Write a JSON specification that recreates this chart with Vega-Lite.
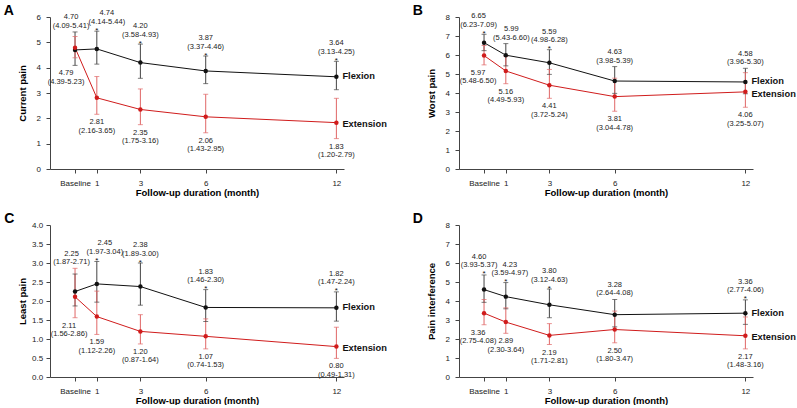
{
"$schema": "https://vega.github.io/schema/vega-lite/v6.json",
"data": {"values": [
{"panel":"A","group":"Flexion","month":0,"mean":4.70,"lower":4.09,"upper":5.41,"sig":false},
{"panel":"A","group":"Flexion","month":1,"mean":4.74,"lower":4.14,"upper":5.44,"sig":true},
{"panel":"A","group":"Flexion","month":3,"mean":4.20,"lower":3.58,"upper":4.93,"sig":true},
{"panel":"A","group":"Flexion","month":6,"mean":3.87,"lower":3.37,"upper":4.46,"sig":true},
{"panel":"A","group":"Flexion","month":12,"mean":3.64,"lower":3.13,"upper":4.25,"sig":true},
{"panel":"A","group":"Extension","month":0,"mean":4.79,"lower":4.39,"upper":5.23,"sig":false},
{"panel":"A","group":"Extension","month":1,"mean":2.81,"lower":2.16,"upper":3.65,"sig":false},
{"panel":"A","group":"Extension","month":3,"mean":2.35,"lower":1.75,"upper":3.16,"sig":false},
{"panel":"A","group":"Extension","month":6,"mean":2.06,"lower":1.43,"upper":2.95,"sig":false},
{"panel":"A","group":"Extension","month":12,"mean":1.83,"lower":1.20,"upper":2.79,"sig":false},
{"panel":"B","group":"Flexion","month":0,"mean":6.65,"lower":6.23,"upper":7.09,"sig":true},
{"panel":"B","group":"Flexion","month":1,"mean":5.99,"lower":5.43,"upper":6.60,"sig":false},
{"panel":"B","group":"Flexion","month":3,"mean":5.59,"lower":4.98,"upper":6.28,"sig":true},
{"panel":"B","group":"Flexion","month":6,"mean":4.63,"lower":3.98,"upper":5.39,"sig":false},
{"panel":"B","group":"Flexion","month":12,"mean":4.58,"lower":3.96,"upper":5.30,"sig":false},
{"panel":"B","group":"Extension","month":0,"mean":5.97,"lower":5.48,"upper":6.50,"sig":false},
{"panel":"B","group":"Extension","month":1,"mean":5.16,"lower":4.49,"upper":5.93,"sig":false},
{"panel":"B","group":"Extension","month":3,"mean":4.41,"lower":3.72,"upper":5.24,"sig":false},
{"panel":"B","group":"Extension","month":6,"mean":3.81,"lower":3.04,"upper":4.78,"sig":false},
{"panel":"B","group":"Extension","month":12,"mean":4.06,"lower":3.25,"upper":5.07,"sig":false},
{"panel":"C","group":"Flexion","month":0,"mean":2.25,"lower":1.87,"upper":2.71,"sig":false},
{"panel":"C","group":"Flexion","month":1,"mean":2.45,"lower":1.97,"upper":3.04,"sig":true},
{"panel":"C","group":"Flexion","month":3,"mean":2.38,"lower":1.89,"upper":3.00,"sig":true},
{"panel":"C","group":"Flexion","month":6,"mean":1.83,"lower":1.46,"upper":2.30,"sig":true},
{"panel":"C","group":"Flexion","month":12,"mean":1.82,"lower":1.47,"upper":2.24,"sig":true},
{"panel":"C","group":"Extension","month":0,"mean":2.11,"lower":1.56,"upper":2.86,"sig":false},
{"panel":"C","group":"Extension","month":1,"mean":1.59,"lower":1.12,"upper":2.26,"sig":false},
{"panel":"C","group":"Extension","month":3,"mean":1.20,"lower":0.87,"upper":1.64,"sig":false},
{"panel":"C","group":"Extension","month":6,"mean":1.07,"lower":0.74,"upper":1.53,"sig":false},
{"panel":"C","group":"Extension","month":12,"mean":0.80,"lower":0.49,"upper":1.31,"sig":false},
{"panel":"D","group":"Flexion","month":0,"mean":4.60,"lower":3.93,"upper":5.37,"sig":true},
{"panel":"D","group":"Flexion","month":1,"mean":4.23,"lower":3.59,"upper":4.97,"sig":true},
{"panel":"D","group":"Flexion","month":3,"mean":3.80,"lower":3.12,"upper":4.63,"sig":true},
{"panel":"D","group":"Flexion","month":6,"mean":3.28,"lower":2.64,"upper":4.08,"sig":false},
{"panel":"D","group":"Flexion","month":12,"mean":3.36,"lower":2.77,"upper":4.06,"sig":true},
{"panel":"D","group":"Extension","month":0,"mean":3.36,"lower":2.75,"upper":4.08,"sig":false},
{"panel":"D","group":"Extension","month":1,"mean":2.89,"lower":2.30,"upper":3.64,"sig":false},
{"panel":"D","group":"Extension","month":3,"mean":2.19,"lower":1.71,"upper":2.81,"sig":false},
{"panel":"D","group":"Extension","month":6,"mean":2.50,"lower":1.80,"upper":3.47,"sig":false},
{"panel":"D","group":"Extension","month":12,"mean":2.17,"lower":1.48,"upper":3.16,"sig":false}
]},
"columns": 2,
"bounds": "flush",
"spacing": {"row": 56, "column": 115},
"padding": {"left": 3, "top": 4, "right": 0, "bottom": 0},
"concat": [
{
 "title": {"text": "A", "orient": "left", "anchor": "end", "frame": "group", "angle": 0, "align": "right", "baseline": "alphabetic", "offset": -7, "dy": -2},
 "width": 294, "height": 152,
 "transform": [
  {"filter": "datum.panel == 'A'"},
  {"joinaggregate": [{"op": "max", "field": "upper", "as": "maxU"}, {"op": "min", "field": "lower", "as": "minL"}], "groupby": ["month"]},
  {"calculate": "format(datum.mean,'.2f') + '\\n(' + format(datum.lower,'.2f') + '-' + format(datum.upper,'.2f') + ')'", "as": "label"}
 ],
 "encoding": {
  "x": {"field": "month", "type": "quantitative", "scale": {"domain": [-1.15, 12.35], "nice": false, "zero": false}, "axis": {"values": [0,1,3,6,12], "labelExpr": "datum.value == 0 ? 'Baseline' : datum.label"}, "title": "Follow-up duration (month)"},
  "xOffset": {"field": "group", "type": "nominal", "scale": {"type": "point", "domain": ["Flexion", "Extension"], "range": [-1, 3.5], "padding": 0}}
 },
 "layer": [
  {"mark": {"type": "rule", "strokeWidth": 1}, "encoding": {"y": {"field": "lower", "type": "quantitative", "scale": {"domain": [0, 6], "nice": false}, "axis": {"values": [0,1,2,3,4,5,6], "labelPadding": 5.5, "titlePadding": 9}, "title": "Current pain"}, "y2": {"field": "upper"}, "color": {"condition": {"test": "datum.group == 'Flexion'", "value": "#444"}, "value": "#e06666"}}},
  {"mark": {"type": "tick", "orient": "horizontal", "size": 5, "thickness": 1}, "encoding": {"y": {"field": "lower", "type": "quantitative", "scale": {"domain": [0, 6], "nice": false}, "axis": {"values": [0,1,2,3,4,5,6], "labelPadding": 5.5, "titlePadding": 9}, "title": "Current pain"}, "color": {"condition": {"test": "datum.group == 'Flexion'", "value": "#444"}, "value": "#e06666"}}},
  {"mark": {"type": "tick", "orient": "horizontal", "size": 5, "thickness": 1}, "encoding": {"y": {"field": "upper", "type": "quantitative", "scale": {"domain": [0, 6], "nice": false}, "axis": {"values": [0,1,2,3,4,5,6], "labelPadding": 5.5, "titlePadding": 9}, "title": "Current pain"}, "color": {"condition": {"test": "datum.group == 'Flexion'", "value": "#444"}, "value": "#e06666"}}},
  {"mark": {"type": "line", "strokeWidth": 1}, "encoding": {"y": {"field": "mean", "type": "quantitative", "scale": {"domain": [0, 6], "nice": false}, "axis": {"values": [0,1,2,3,4,5,6], "labelPadding": 5.5, "titlePadding": 9}, "title": "Current pain"}, "color": {"field": "group", "type": "nominal", "scale": {"domain": ["Flexion", "Extension"], "range": ["#111111", "#d01c1c"]}, "legend": null}}},
  {"mark": {"type": "point", "filled": true, "size": 20, "opacity": 1}, "encoding": {"y": {"field": "mean", "type": "quantitative", "scale": {"domain": [0, 6], "nice": false}, "axis": {"values": [0,1,2,3,4,5,6], "labelPadding": 5.5, "titlePadding": 9}, "title": "Current pain"}, "color": {"field": "group", "type": "nominal", "scale": {"domain": ["Flexion", "Extension"], "range": ["#111111", "#d01c1c"]}, "legend": null}}},
  {"transform": [{"filter": "datum.group == 'Flexion' && datum.sig"}], "mark": {"type": "text", "text": "*", "fontSize": 8, "baseline": "alphabetic", "dy": 1.5, "color": "#111"}, "encoding": {"y": {"field": "upper", "type": "quantitative", "scale": {"domain": [0, 6], "nice": false}, "axis": {"values": [0,1,2,3,4,5,6], "labelPadding": 5.5, "titlePadding": 9}, "title": "Current pain"}}},
  {"transform": [{"filter": "datum.group == 'Flexion'"}], "mark": {"type": "text", "fontSize": 7.5, "baseline": "bottom", "lineBreak": "\n", "lineHeight": 8.5, "color": "#222", "dy": {"expr": "datum.sig ? -14 : -10.5"}, "dx": {"expr": "datum.month == 0 ? -4 : datum.month == 1 ? 10 : 0"}}, "encoding": {"y": {"field": "maxU", "type": "quantitative", "scale": {"domain": [0, 6], "nice": false}, "axis": {"values": [0,1,2,3,4,5,6], "labelPadding": 5.5, "titlePadding": 9}, "title": "Current pain"}, "text": {"field": "label"}}},
  {"transform": [{"filter": "datum.group == 'Extension'"}], "mark": {"type": "text", "fontSize": 7.5, "baseline": "top", "lineBreak": "\n", "lineHeight": 8.5, "color": "#222", "dy": 4, "dx": {"expr": "datum.month == 0 ? -9 : 0"}}, "encoding": {"y": {"field": "minL", "type": "quantitative", "scale": {"domain": [0, 6], "nice": false}, "axis": {"values": [0,1,2,3,4,5,6], "labelPadding": 5.5, "titlePadding": 9}, "title": "Current pain"}, "text": {"field": "label"}}},
  {"transform": [{"filter": "datum.month == 12"}], "mark": {"type": "text", "align": "left", "dx": 6, "dy": {"expr": "datum.group == 'Extension' ? 1.5 : -0.5"}, "fontSize": 9.3, "fontWeight": "bold", "color": "#111"}, "encoding": {"y": {"field": "mean", "type": "quantitative", "scale": {"domain": [0, 6], "nice": false}, "axis": {"values": [0,1,2,3,4,5,6], "labelPadding": 5.5, "titlePadding": 9}, "title": "Current pain"}, "text": {"field": "group"}}}
 ]
},
{
 "title": {"text": "B", "orient": "left", "anchor": "end", "frame": "group", "angle": 0, "align": "right", "baseline": "alphabetic", "offset": -7, "dy": -2},
 "width": 294, "height": 152,
 "transform": [
  {"filter": "datum.panel == 'B'"},
  {"joinaggregate": [{"op": "max", "field": "upper", "as": "maxU"}, {"op": "min", "field": "lower", "as": "minL"}], "groupby": ["month"]},
  {"calculate": "format(datum.mean,'.2f') + '\\n(' + format(datum.lower,'.2f') + '-' + format(datum.upper,'.2f') + ')'", "as": "label"}
 ],
 "encoding": {
  "x": {"field": "month", "type": "quantitative", "scale": {"domain": [-1.15, 12.35], "nice": false, "zero": false}, "axis": {"values": [0,1,3,6,12], "labelExpr": "datum.value == 0 ? 'Baseline' : datum.label"}, "title": "Follow-up duration (month)"},
  "xOffset": {"field": "group", "type": "nominal", "scale": {"type": "point", "domain": ["Flexion", "Extension"], "range": [-1, 3.5], "padding": 0}}
 },
 "layer": [
  {"mark": {"type": "rule", "strokeWidth": 1}, "encoding": {"y": {"field": "lower", "type": "quantitative", "scale": {"domain": [0, 8], "nice": false}, "axis": {"values": [0,1,2,3,4,5,6,7,8], "labelPadding": 5.5, "titlePadding": 9}, "title": "Worst pain"}, "y2": {"field": "upper"}, "color": {"condition": {"test": "datum.group == 'Flexion'", "value": "#444"}, "value": "#e06666"}}},
  {"mark": {"type": "tick", "orient": "horizontal", "size": 5, "thickness": 1}, "encoding": {"y": {"field": "lower", "type": "quantitative", "scale": {"domain": [0, 8], "nice": false}, "axis": {"values": [0,1,2,3,4,5,6,7,8], "labelPadding": 5.5, "titlePadding": 9}, "title": "Worst pain"}, "color": {"condition": {"test": "datum.group == 'Flexion'", "value": "#444"}, "value": "#e06666"}}},
  {"mark": {"type": "tick", "orient": "horizontal", "size": 5, "thickness": 1}, "encoding": {"y": {"field": "upper", "type": "quantitative", "scale": {"domain": [0, 8], "nice": false}, "axis": {"values": [0,1,2,3,4,5,6,7,8], "labelPadding": 5.5, "titlePadding": 9}, "title": "Worst pain"}, "color": {"condition": {"test": "datum.group == 'Flexion'", "value": "#444"}, "value": "#e06666"}}},
  {"mark": {"type": "line", "strokeWidth": 1}, "encoding": {"y": {"field": "mean", "type": "quantitative", "scale": {"domain": [0, 8], "nice": false}, "axis": {"values": [0,1,2,3,4,5,6,7,8], "labelPadding": 5.5, "titlePadding": 9}, "title": "Worst pain"}, "color": {"field": "group", "type": "nominal", "scale": {"domain": ["Flexion", "Extension"], "range": ["#111111", "#d01c1c"]}, "legend": null}}},
  {"mark": {"type": "point", "filled": true, "size": 20, "opacity": 1}, "encoding": {"y": {"field": "mean", "type": "quantitative", "scale": {"domain": [0, 8], "nice": false}, "axis": {"values": [0,1,2,3,4,5,6,7,8], "labelPadding": 5.5, "titlePadding": 9}, "title": "Worst pain"}, "color": {"field": "group", "type": "nominal", "scale": {"domain": ["Flexion", "Extension"], "range": ["#111111", "#d01c1c"]}, "legend": null}}},
  {"transform": [{"filter": "datum.group == 'Flexion' && datum.sig"}], "mark": {"type": "text", "text": "*", "fontSize": 8, "baseline": "alphabetic", "dy": 1.5, "color": "#111"}, "encoding": {"y": {"field": "upper", "type": "quantitative", "scale": {"domain": [0, 8], "nice": false}, "axis": {"values": [0,1,2,3,4,5,6,7,8], "labelPadding": 5.5, "titlePadding": 9}, "title": "Worst pain"}}},
  {"transform": [{"filter": "datum.group == 'Flexion'"}], "mark": {"type": "text", "fontSize": 7.5, "baseline": "bottom", "lineBreak": "\n", "lineHeight": 8.5, "color": "#222", "dy": {"expr": "datum.sig ? -14 : -10.5"}, "dx": {"expr": "datum.month == 0 ? -5.5 : datum.month == 1 ? 5.5 : 0"}}, "encoding": {"y": {"field": "maxU", "type": "quantitative", "scale": {"domain": [0, 8], "nice": false}, "axis": {"values": [0,1,2,3,4,5,6,7,8], "labelPadding": 5.5, "titlePadding": 9}, "title": "Worst pain"}, "text": {"field": "label"}}},
  {"transform": [{"filter": "datum.group == 'Extension'"}], "mark": {"type": "text", "fontSize": 7.5, "baseline": "top", "lineBreak": "\n", "lineHeight": 8.5, "color": "#222", "dy": 4, "dx": {"expr": "datum.month == 0 ? -6 : 0"}}, "encoding": {"y": {"field": "minL", "type": "quantitative", "scale": {"domain": [0, 8], "nice": false}, "axis": {"values": [0,1,2,3,4,5,6,7,8], "labelPadding": 5.5, "titlePadding": 9}, "title": "Worst pain"}, "text": {"field": "label"}}},
  {"transform": [{"filter": "datum.month == 12"}], "mark": {"type": "text", "align": "left", "dx": 6, "dy": {"expr": "datum.group == 'Extension' ? 2.5 : -1"}, "fontSize": 9.3, "fontWeight": "bold", "color": "#111"}, "encoding": {"y": {"field": "mean", "type": "quantitative", "scale": {"domain": [0, 8], "nice": false}, "axis": {"values": [0,1,2,3,4,5,6,7,8], "labelPadding": 5.5, "titlePadding": 9}, "title": "Worst pain"}, "text": {"field": "group"}}}
 ]
},
{
 "title": {"text": "C", "orient": "left", "anchor": "end", "frame": "group", "angle": 0, "align": "right", "baseline": "alphabetic", "offset": -7, "dy": -2},
 "width": 294, "height": 152,
 "transform": [
  {"filter": "datum.panel == 'C'"},
  {"joinaggregate": [{"op": "max", "field": "upper", "as": "maxU"}, {"op": "min", "field": "lower", "as": "minL"}], "groupby": ["month"]},
  {"calculate": "format(datum.mean,'.2f') + '\\n(' + format(datum.lower,'.2f') + '-' + format(datum.upper,'.2f') + ')'", "as": "label"}
 ],
 "encoding": {
  "x": {"field": "month", "type": "quantitative", "scale": {"domain": [-1.15, 12.35], "nice": false, "zero": false}, "axis": {"values": [0,1,3,6,12], "labelExpr": "datum.value == 0 ? 'Baseline' : datum.label"}, "title": "Follow-up duration (month)"},
  "xOffset": {"field": "group", "type": "nominal", "scale": {"type": "point", "domain": ["Flexion", "Extension"], "range": [-1, 3.5], "padding": 0}}
 },
 "layer": [
  {"mark": {"type": "rule", "strokeWidth": 1}, "encoding": {"y": {"field": "lower", "type": "quantitative", "scale": {"domain": [0, 4], "nice": false}, "axis": {"values": [0,0.5,1,1.5,2,2.5,3,3.5,4], "format": ".1f", "labelPadding": 3.3, "titlePadding": 4}, "title": "Least pain"}, "y2": {"field": "upper"}, "color": {"condition": {"test": "datum.group == 'Flexion'", "value": "#444"}, "value": "#e06666"}}},
  {"mark": {"type": "tick", "orient": "horizontal", "size": 5, "thickness": 1}, "encoding": {"y": {"field": "lower", "type": "quantitative", "scale": {"domain": [0, 4], "nice": false}, "axis": {"values": [0,0.5,1,1.5,2,2.5,3,3.5,4], "format": ".1f", "labelPadding": 3.3, "titlePadding": 4}, "title": "Least pain"}, "color": {"condition": {"test": "datum.group == 'Flexion'", "value": "#444"}, "value": "#e06666"}}},
  {"mark": {"type": "tick", "orient": "horizontal", "size": 5, "thickness": 1}, "encoding": {"y": {"field": "upper", "type": "quantitative", "scale": {"domain": [0, 4], "nice": false}, "axis": {"values": [0,0.5,1,1.5,2,2.5,3,3.5,4], "format": ".1f", "labelPadding": 3.3, "titlePadding": 4}, "title": "Least pain"}, "color": {"condition": {"test": "datum.group == 'Flexion'", "value": "#444"}, "value": "#e06666"}}},
  {"mark": {"type": "line", "strokeWidth": 1}, "encoding": {"y": {"field": "mean", "type": "quantitative", "scale": {"domain": [0, 4], "nice": false}, "axis": {"values": [0,0.5,1,1.5,2,2.5,3,3.5,4], "format": ".1f", "labelPadding": 3.3, "titlePadding": 4}, "title": "Least pain"}, "color": {"field": "group", "type": "nominal", "scale": {"domain": ["Flexion", "Extension"], "range": ["#111111", "#d01c1c"]}, "legend": null}}},
  {"mark": {"type": "point", "filled": true, "size": 20, "opacity": 1}, "encoding": {"y": {"field": "mean", "type": "quantitative", "scale": {"domain": [0, 4], "nice": false}, "axis": {"values": [0,0.5,1,1.5,2,2.5,3,3.5,4], "format": ".1f", "labelPadding": 3.3, "titlePadding": 4}, "title": "Least pain"}, "color": {"field": "group", "type": "nominal", "scale": {"domain": ["Flexion", "Extension"], "range": ["#111111", "#d01c1c"]}, "legend": null}}},
  {"transform": [{"filter": "datum.group == 'Flexion' && datum.sig"}], "mark": {"type": "text", "text": "*", "fontSize": 8, "baseline": "alphabetic", "dy": 1.5, "color": "#111"}, "encoding": {"y": {"field": "upper", "type": "quantitative", "scale": {"domain": [0, 4], "nice": false}, "axis": {"values": [0,0.5,1,1.5,2,2.5,3,3.5,4], "format": ".1f", "labelPadding": 3.3, "titlePadding": 4}, "title": "Least pain"}}},
  {"transform": [{"filter": "datum.group == 'Flexion'"}], "mark": {"type": "text", "fontSize": 7.5, "baseline": "bottom", "lineBreak": "\n", "lineHeight": 8.5, "color": "#222", "dy": {"expr": "datum.sig ? -14 : -10.5"}, "dx": {"expr": "datum.month == 0 ? -3.5 : datum.month == 1 ? 8 : 0"}}, "encoding": {"y": {"field": "maxU", "type": "quantitative", "scale": {"domain": [0, 4], "nice": false}, "axis": {"values": [0,0.5,1,1.5,2,2.5,3,3.5,4], "format": ".1f", "labelPadding": 3.3, "titlePadding": 4}, "title": "Least pain"}, "text": {"field": "label"}}},
  {"transform": [{"filter": "datum.group == 'Extension'"}], "mark": {"type": "text", "fontSize": 7.5, "baseline": "top", "lineBreak": "\n", "lineHeight": 8.5, "color": "#222", "dy": 4, "dx": {"expr": "datum.month == 0 ? -6 : 0"}}, "encoding": {"y": {"field": "minL", "type": "quantitative", "scale": {"domain": [0, 4], "nice": false}, "axis": {"values": [0,0.5,1,1.5,2,2.5,3,3.5,4], "format": ".1f", "labelPadding": 3.3, "titlePadding": 4}, "title": "Least pain"}, "text": {"field": "label"}}},
  {"transform": [{"filter": "datum.month == 12"}], "mark": {"type": "text", "align": "left", "dx": 6, "dy": {"expr": "datum.group == 'Extension' ? 1.5 : -0.5"}, "fontSize": 9.3, "fontWeight": "bold", "color": "#111"}, "encoding": {"y": {"field": "mean", "type": "quantitative", "scale": {"domain": [0, 4], "nice": false}, "axis": {"values": [0,0.5,1,1.5,2,2.5,3,3.5,4], "format": ".1f", "labelPadding": 3.3, "titlePadding": 4}, "title": "Least pain"}, "text": {"field": "group"}}}
 ]
},
{
 "title": {"text": "D", "orient": "left", "anchor": "end", "frame": "group", "angle": 0, "align": "right", "baseline": "alphabetic", "offset": -7, "dy": -2},
 "width": 294, "height": 152,
 "transform": [
  {"filter": "datum.panel == 'D'"},
  {"joinaggregate": [{"op": "max", "field": "upper", "as": "maxU"}, {"op": "min", "field": "lower", "as": "minL"}], "groupby": ["month"]},
  {"calculate": "format(datum.mean,'.2f') + '\\n(' + format(datum.lower,'.2f') + '-' + format(datum.upper,'.2f') + ')'", "as": "label"}
 ],
 "encoding": {
  "x": {"field": "month", "type": "quantitative", "scale": {"domain": [-1.15, 12.35], "nice": false, "zero": false}, "axis": {"values": [0,1,3,6,12], "labelExpr": "datum.value == 0 ? 'Baseline' : datum.label"}, "title": "Follow-up duration (month)"},
  "xOffset": {"field": "group", "type": "nominal", "scale": {"type": "point", "domain": ["Flexion", "Extension"], "range": [-1, 3.5], "padding": 0}}
 },
 "layer": [
  {"mark": {"type": "rule", "strokeWidth": 1}, "encoding": {"y": {"field": "lower", "type": "quantitative", "scale": {"domain": [0, 8], "nice": false}, "axis": {"values": [0,1,2,3,4,5,6,7,8], "labelPadding": 5.5, "titlePadding": 9}, "title": "Pain interference"}, "y2": {"field": "upper"}, "color": {"condition": {"test": "datum.group == 'Flexion'", "value": "#444"}, "value": "#e06666"}}},
  {"mark": {"type": "tick", "orient": "horizontal", "size": 5, "thickness": 1}, "encoding": {"y": {"field": "lower", "type": "quantitative", "scale": {"domain": [0, 8], "nice": false}, "axis": {"values": [0,1,2,3,4,5,6,7,8], "labelPadding": 5.5, "titlePadding": 9}, "title": "Pain interference"}, "color": {"condition": {"test": "datum.group == 'Flexion'", "value": "#444"}, "value": "#e06666"}}},
  {"mark": {"type": "tick", "orient": "horizontal", "size": 5, "thickness": 1}, "encoding": {"y": {"field": "upper", "type": "quantitative", "scale": {"domain": [0, 8], "nice": false}, "axis": {"values": [0,1,2,3,4,5,6,7,8], "labelPadding": 5.5, "titlePadding": 9}, "title": "Pain interference"}, "color": {"condition": {"test": "datum.group == 'Flexion'", "value": "#444"}, "value": "#e06666"}}},
  {"mark": {"type": "line", "strokeWidth": 1}, "encoding": {"y": {"field": "mean", "type": "quantitative", "scale": {"domain": [0, 8], "nice": false}, "axis": {"values": [0,1,2,3,4,5,6,7,8], "labelPadding": 5.5, "titlePadding": 9}, "title": "Pain interference"}, "color": {"field": "group", "type": "nominal", "scale": {"domain": ["Flexion", "Extension"], "range": ["#111111", "#d01c1c"]}, "legend": null}}},
  {"mark": {"type": "point", "filled": true, "size": 20, "opacity": 1}, "encoding": {"y": {"field": "mean", "type": "quantitative", "scale": {"domain": [0, 8], "nice": false}, "axis": {"values": [0,1,2,3,4,5,6,7,8], "labelPadding": 5.5, "titlePadding": 9}, "title": "Pain interference"}, "color": {"field": "group", "type": "nominal", "scale": {"domain": ["Flexion", "Extension"], "range": ["#111111", "#d01c1c"]}, "legend": null}}},
  {"transform": [{"filter": "datum.group == 'Flexion' && datum.sig"}], "mark": {"type": "text", "text": "*", "fontSize": 8, "baseline": "alphabetic", "dy": 1.5, "color": "#111"}, "encoding": {"y": {"field": "upper", "type": "quantitative", "scale": {"domain": [0, 8], "nice": false}, "axis": {"values": [0,1,2,3,4,5,6,7,8], "labelPadding": 5.5, "titlePadding": 9}, "title": "Pain interference"}}},
  {"transform": [{"filter": "datum.group == 'Flexion'"}], "mark": {"type": "text", "fontSize": 7.5, "baseline": "bottom", "lineBreak": "\n", "lineHeight": 8.5, "color": "#222", "dy": {"expr": "datum.sig ? -14 : -10.5"}, "dx": {"expr": "datum.month == 0 ? -5 : datum.month == 1 ? 4 : 0"}}, "encoding": {"y": {"field": "maxU", "type": "quantitative", "scale": {"domain": [0, 8], "nice": false}, "axis": {"values": [0,1,2,3,4,5,6,7,8], "labelPadding": 5.5, "titlePadding": 9}, "title": "Pain interference"}, "text": {"field": "label"}}},
  {"transform": [{"filter": "datum.group == 'Extension'"}], "mark": {"type": "text", "fontSize": 7.5, "baseline": "top", "lineBreak": "\n", "lineHeight": 8.5, "color": "#222", "dy": 4, "dx": {"expr": "datum.month == 0 ? -6 : 0"}}, "encoding": {"y": {"field": "minL", "type": "quantitative", "scale": {"domain": [0, 8], "nice": false}, "axis": {"values": [0,1,2,3,4,5,6,7,8], "labelPadding": 5.5, "titlePadding": 9}, "title": "Pain interference"}, "text": {"field": "label"}}},
  {"transform": [{"filter": "datum.month == 12"}], "mark": {"type": "text", "align": "left", "dx": 6, "dy": {"expr": "datum.group == 'Extension' ? 1.5 : -0.5"}, "fontSize": 9.3, "fontWeight": "bold", "color": "#111"}, "encoding": {"y": {"field": "mean", "type": "quantitative", "scale": {"domain": [0, 8], "nice": false}, "axis": {"values": [0,1,2,3,4,5,6,7,8], "labelPadding": 5.5, "titlePadding": 9}, "title": "Pain interference"}, "text": {"field": "group"}}}
 ]
}
],
"config": {
 "font": "Liberation Sans",
 "view": {"stroke": null},
 "axis": {"grid": false, "labelFontSize": 8, "labelColor": "#222", "titleFontSize": 9.5, "titleFontWeight": "bold", "titleColor": "#000", "domainColor": "#444", "tickColor": "#444", "tickSize": 4},
 "axisX": {"labelPadding": 6, "titlePadding": 0, "labelFlush": false, "labelOverlap": false},
 "axisY": {"labelOverlap": false},
 "title": {"fontSize": 14, "fontWeight": "bold", "color": "#000"}
}
}
